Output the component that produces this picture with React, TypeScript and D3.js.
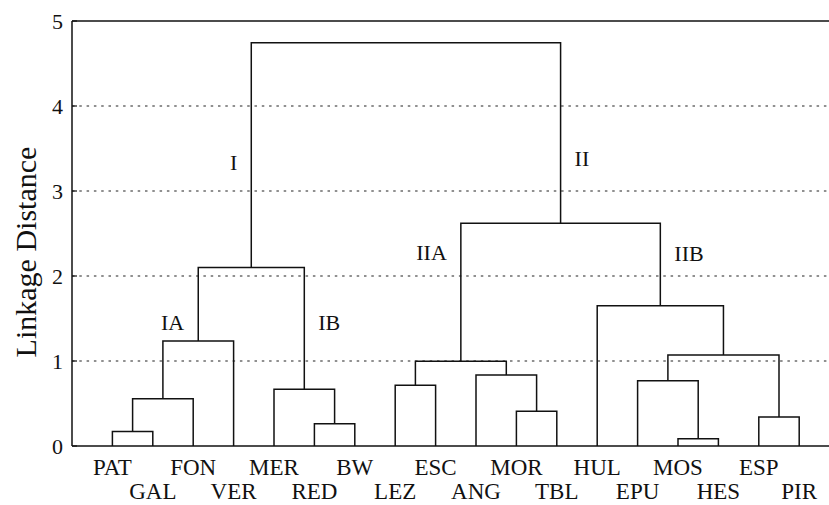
import React from 'react';
import * as d3 from 'd3';

// leaf order along the x axis
const leaves = ['PAT', 'GAL', 'FON', 'VER', 'MER', 'RED', 'BW', 'LEZ', 'ESC', 'ANG', 'MOR', 'TBL', 'HUL', 'EPU', 'MOS', 'HES', 'ESP', 'PIR'];

// linkage: [left id, right id, height]; new nodes get ids from leaves.length up
const merges: [number, number, number][] = [
  [0, 1, 0.17],
  [18, 2, 0.556],
  [19, 3, 1.235],
  [5, 6, 0.262],
  [4, 21, 0.667],
  [20, 22, 2.1],
  [7, 8, 0.714],
  [10, 11, 0.408],
  [9, 25, 0.835],
  [24, 26, 0.996],
  [14, 15, 0.086],
  [13, 28, 0.768],
  [16, 17, 0.341],
  [29, 30, 1.07],
  [12, 31, 1.65],
  [27, 32, 2.62],
  [23, 33, 4.745],
];

const yTicks = [0, 1, 2, 3, 4, 5];
const gridLines = [1, 2, 3, 4];

// cluster names and the node they sit beside
const clusterLabels = [
  { text: 'I', node: 23, side: 'left', at: 3.34 },
  { text: 'II', node: 33, side: 'right', at: 3.38 },
  { text: 'IA', node: 20, side: 'left', at: 1.46 },
  { text: 'IB', node: 22, side: 'right', at: 1.46 },
  { text: 'IIA', node: 27, side: 'left', at: 2.28 },
  { text: 'IIB', node: 32, side: 'right', at: 2.27 },
];

const W = 829;
const H = 505;
const left = 72;
const top = 21;
const bottom = 446;

const font = '"Liberation Serif", "Times New Roman", serif';

export default function App() {
  const x = d3.scalePoint<string>().domain(leaves).range([left, left + 19 * 40.4]).padding(1);
  const y = d3.scaleLinear().domain([0, 5]).range([bottom, top]);

  // position of every node (leaves first, then merges)
  const pos: { x: number; h: number }[] = leaves.map((l) => ({ x: x(l) as number, h: 0 }));
  merges.forEach(([a, b, h]) => {
    pos.push({ x: (pos[a].x + pos[b].x) / 2, h });
  });

  const links = merges.map(([a, b, h], i) => {
    const p = d3.path();
    p.moveTo(pos[a].x, y(pos[a].h));
    p.lineTo(pos[a].x, y(h));
    p.lineTo(pos[b].x, y(h));
    p.lineTo(pos[b].x, y(pos[b].h));
    return <path key={i} d={p.toString()} fill="none" stroke="#111" strokeWidth={1.5} />;
  });

  return (
    <svg width={W} height={H} style={{ position: 'absolute', left: 0, top: 0, background: '#fff' }} fontFamily={font}>
      <rect width={W} height={H} fill="#fff" />
      {gridLines.map((g) => (
        <line key={g} x1={left} x2={W} y1={y(g)} y2={y(g)} stroke="#222" strokeWidth={1.1} strokeDasharray="2.5,4.8" />
      ))}
      {/* frame: left axis, top and bottom */}
      <line x1={left} x2={left} y1={top} y2={bottom} stroke="#111" strokeWidth={1.5} />
      <line x1={left} x2={W} y1={top} y2={top} stroke="#111" strokeWidth={1.5} />
      <line x1={left} x2={W} y1={bottom} y2={bottom} stroke="#111" strokeWidth={1.5} />
      {yTicks.map((t) => (
        <g key={t}>
          <line x1={left} x2={left + 5} y1={y(t)} y2={y(t)} stroke="#111" strokeWidth={1.2} />
          <text x={left - 9} y={y(t)} dy="0.35em" textAnchor="end" fontSize={22} fill="#111">{t}</text>
        </g>
      ))}
      <text transform={`translate(36,252) rotate(-90)`} textAnchor="middle" fontSize={30} fill="#111">
        Linkage Distance
      </text>
      {links}
      {leaves.map((l, i) => (
        <text key={l} x={x(l)} y={i % 2 === 0 ? 475 : 499} textAnchor="middle" fontSize={23} fill="#111">{l}</text>
      ))}
      {clusterLabels.map((c) => (
        <text
          key={c.text}
          x={pos[c.node].x + (c.side === 'left' ? -14 : 14)}
          y={y(c.at)}
          dy="0.35em"
          textAnchor={c.side === 'left' ? 'end' : 'start'}
          fontSize={22}
          fill="#111"
        >
          {c.text}
        </text>
      ))}
    </svg>
  );
}
